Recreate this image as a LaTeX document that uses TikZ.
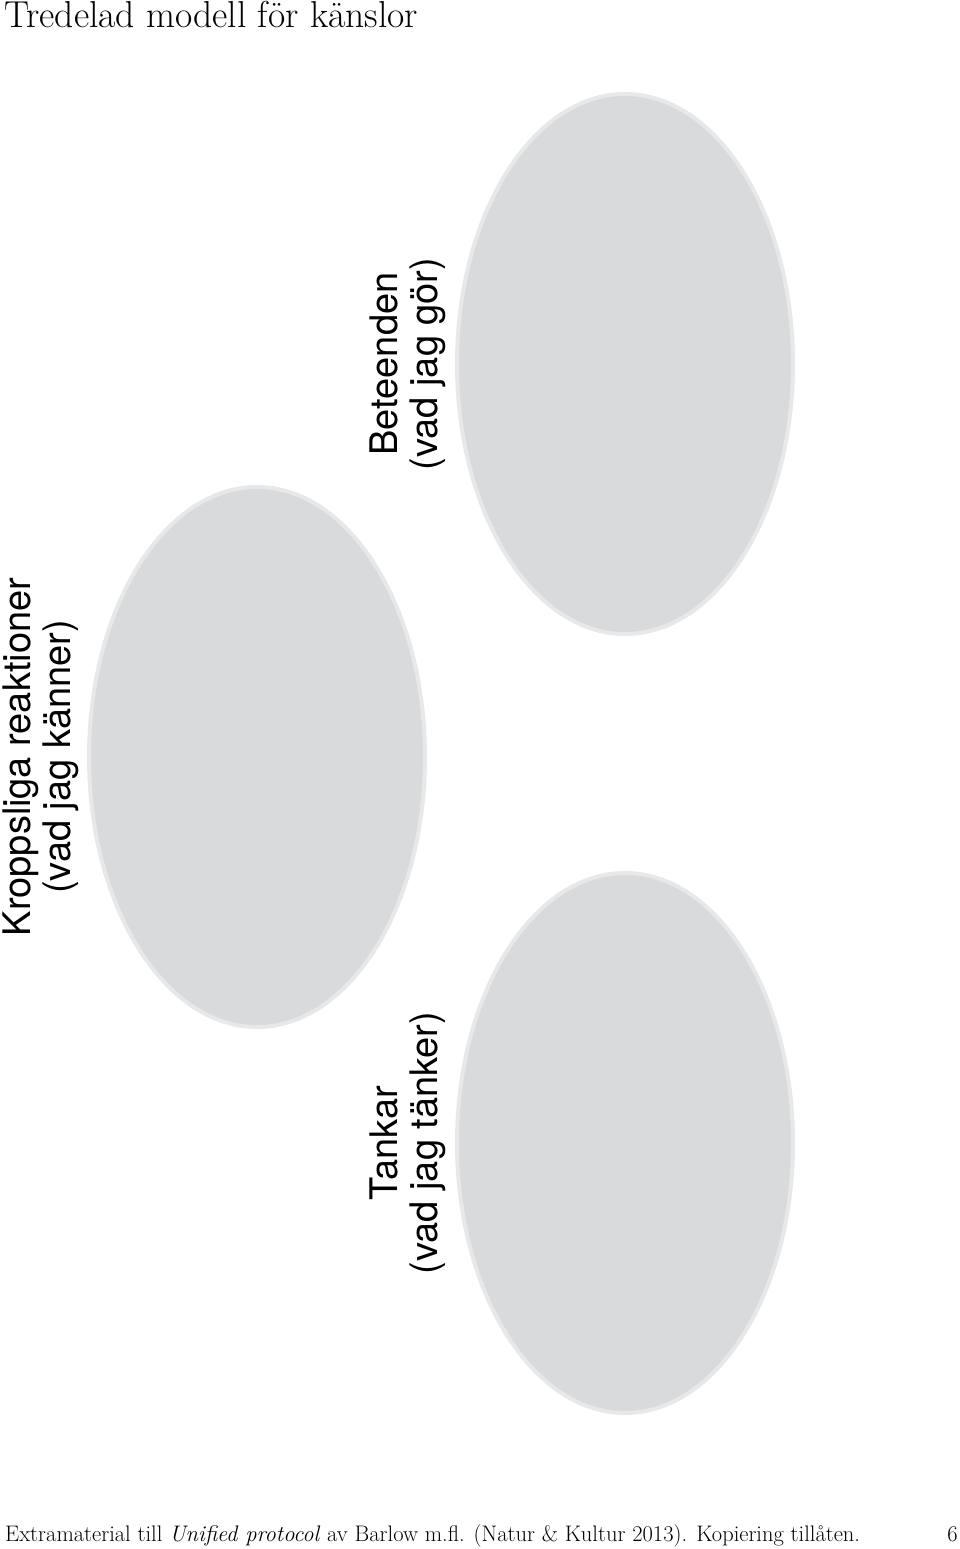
\documentclass[tikz,border=0pt]{standalone}
\usepackage{fontspec}
\setsansfont{TeX Gyre Heros}
\usepackage{tikz}
\usetikzlibrary{shapes, positioning}

\begin{document}
\begin{tikzpicture}[x=1pt, y=-1pt,
	blob/.style={ellipse, draw=blobrim, line width=4pt, fill=blobfill, inner sep=0pt, minimum width=336pt, minimum height=540pt},
	tag/.style={rotate=90, align=center, inner sep=0pt, font=\sffamily\fontsize{38}{40}\selectfont},
	serif/.style={inner sep=0pt, font=\rmfamily\fontsize{#1}{#1}\selectfont}]
	
	\definecolor{blobfill}{HTML}{D9DADC}
	\definecolor{blobrim}{HTML}{E7E8E9}
	\useasboundingbox (0,0) rectangle (960,1549);
	
	% title
	\node[serif=37.5, anchor=base west] (title) at (4,28) {Tredelad modell för känslor};
	
	% ellipses
	\node[blob] (kropp) at (257,757) {};
	\node[blob] (beteende) at (625,364) {};
	\node[blob] (tankar) at (625,1143) {};
	
	% labels
	\node[tag, left=8pt of kropp, anchor=south] (kroppT) {Kroppsliga reaktioner\\(vad jag känner)};
	\node[tag, left=9pt of beteende, anchor=south] (beteendeT) {Beteenden\\(vad jag gör)};
	\node[tag, left=9pt of tankar, anchor=south] (tankarT) {Tankar\\(vad jag tänker)};
	
	% footer
	\node[serif=22.5, anchor=base west] (foot) at (5,1541) {Extramaterial till \textit{Unified protocol} av Barlow m.fl. (Natur \& Kultur 2013). Kopiering tillåten.};
	\node[serif=22.5, anchor=base east] (page) at (958,1541) {6};
	
\end{tikzpicture}
\end{document}
